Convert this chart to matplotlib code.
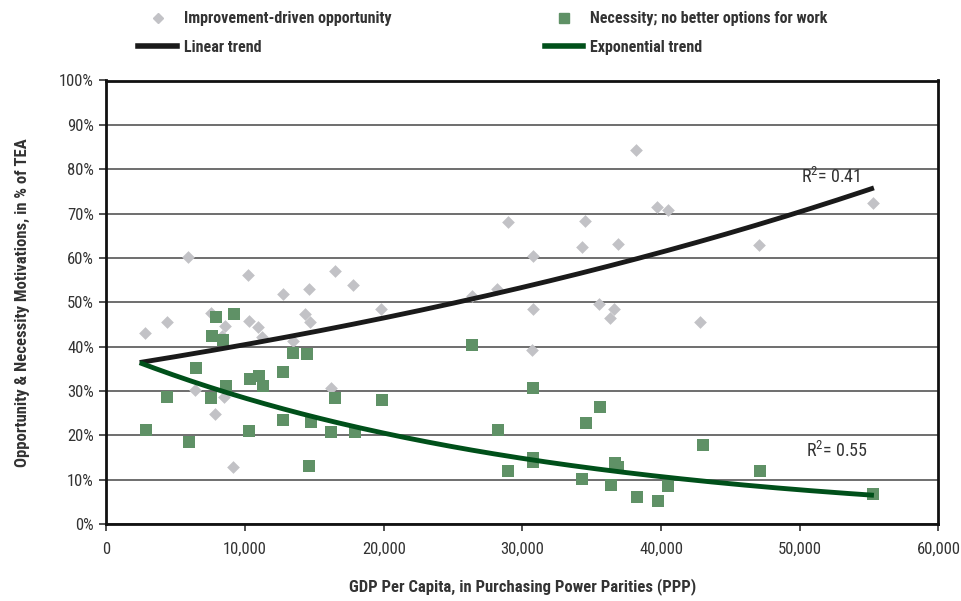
#!/usr/bin/env python3
"""
Opportunity vs necessity motivations against GDP per capita, with trend curves.
"""

import numpy as np
import matplotlib
matplotlib.use("Agg")
import matplotlib.pyplot as plt
from matplotlib import font_manager
from matplotlib.lines import Line2D
from matplotlib.ticker import FuncFormatter, MultipleLocator

# GDP per capita (PPP) and share of TEA (%)
opp_gdp = [2800, 4350, 5900, 10200, 12700, 7550, 8570, 10300, 10900, 11250,
           13450, 6400, 8500, 7850, 9130, 8340, 14600, 16500, 17800, 14350,
           14700, 19800, 16200, 26350, 28200, 28950, 30750, 30750, 30700, 38200,
           39700, 40500, 34550, 34300, 36900, 35550, 36600, 36300, 42800, 47050,
           55250]
opp_pct = [43.0, 45.5, 60.2, 56.1, 51.9, 47.5, 44.7, 45.7, 44.4, 42.1,
           41.3, 30.3, 28.7, 24.8, 12.9, 42.4, 53.1, 57.0, 54.0, 47.4,
           45.5, 48.5, 30.7, 51.3, 52.9, 68.2, 60.4, 48.5, 39.3, 84.4,
           71.5, 70.7, 68.3, 62.5, 63.1, 49.6, 48.5, 46.4, 45.5, 62.8,
           72.4]

nec_gdp = [7900, 9200, 7650, 8400, 13450, 6450, 4370, 7550, 8600, 10380,
           10980, 11270, 12750, 12750, 10250, 2880, 5940, 14450, 16500, 19880,
           14730, 16220, 17900, 14630, 26400, 30750, 28250, 28950, 30800, 30750,
           34600, 35600, 34300, 36400, 36680, 36900, 38250, 39750, 40500, 43000,
           47150, 55250]
nec_pct = [46.6, 47.3, 42.5, 41.4, 38.5, 35.2, 28.7, 28.5, 31.1, 32.7,
           33.3, 31.1, 34.2, 23.4, 20.9, 21.2, 18.5, 38.3, 28.3, 28.0,
           23.1, 20.8, 20.7, 13.1, 40.4, 30.7, 21.2, 12.0, 14.8, 14.0,
           22.8, 26.4, 10.1, 8.8, 13.7, 12.8, 6.1, 5.1, 8.6, 17.8,
           12.0, 6.8]

# trend curves y = a * exp(b * x), drawn over the range below
trend_range = [2400, 55350]
opp_trend = (35.22, 1.3845e-5)
nec_trend = (39.33, -3.259e-5)

x_ticks = [0, 10000, 20000, 30000, 40000, 50000, 60000]
opp_r2 = "R$^{2}$= 0.41"
nec_r2 = "R$^{2}$= 0.55"

GREY = "#c2c2c6"
GREEN_PT = "#5f9166"
BLACK = "#1a1a1a"
GREEN_LN = "#00501a"
TEXT = "#333333"


def pick_font(names):
    have = {f.name for f in font_manager.fontManager.ttflist}
    for n in names:
        if n in have:
            return n
    return "DejaVu Sans"


NARROW = pick_font(["Liberation Sans Narrow", "Roboto Condensed", "Open Sans Condensed"])
plt.rcParams["font.family"] = [NARROW, "DejaVu Sans"]
plt.rcParams["mathtext.fontset"] = "custom"
plt.rcParams["mathtext.rm"] = NARROW

fig = plt.figure(figsize=(9.61, 6.01), dpi=100, facecolor="white")
ax = fig.add_axes([106.4 / 961, 1 - 524 / 601, 832 / 961, 443.5 / 601])

ax.set_xlim(0, 60000)
ax.set_ylim(0, 100)
ax.yaxis.set_major_locator(MultipleLocator(10))
ax.set_xticks(x_ticks)
ax.yaxis.set_major_formatter(FuncFormatter(lambda v, p: f"{v:.0f}%"))
ax.xaxis.set_major_formatter(FuncFormatter(lambda v, p: f"{v:,.0f}"))
ax.grid(True, axis="y", color="#555555", linewidth=1.2, zorder=0)
ax.set_axisbelow(True)

for spine in ax.spines.values():
    spine.set_linewidth(2.0)
    spine.set_edgecolor("#111111")

ax.tick_params(axis="both", direction="out", length=5, width=1.2, color="#333333",
               labelsize=12, labelcolor=TEXT)
ax.tick_params(axis="y", pad=4)
ax.tick_params(axis="x", pad=8)

# points
ax.scatter(opp_gdp, opp_pct, marker="D", s=42, color=GREY, linewidths=0, zorder=3)
ax.scatter(nec_gdp, nec_pct, marker="s", s=78, color=GREEN_PT, linewidths=0, zorder=4)

# trend curves
xs = np.linspace(trend_range[0], trend_range[1], 200)
ax.plot(xs, opp_trend[0] * np.exp(opp_trend[1] * xs), color=BLACK, linewidth=3.5,
        solid_capstyle="butt", zorder=5)
ax.plot(xs, nec_trend[0] * np.exp(nec_trend[1] * xs), color=GREEN_LN, linewidth=3.5,
        solid_capstyle="butt", zorder=5)

ax.text(50100, 78.3, opp_r2, fontsize=13, color=TEXT, va="center", ha="left", zorder=6)
ax.text(50450, 16.5, nec_r2, fontsize=13, color=TEXT, va="center", ha="left", zorder=6)

ax.set_xlabel("GDP Per Capita, in Purchasing Power Parities (PPP)", fontsize=12,
              fontweight="bold", color=TEXT, labelpad=15)
ax.set_ylabel("Opportunity & Necessity Motivations, in % of TEA", fontsize=12,
              fontweight="bold", color=TEXT, labelpad=21)

# legend across the top
handles = [
    Line2D([], [], linestyle="none", marker="D", markersize=5, color=GREY),
    Line2D([], [], color=BLACK, linewidth=4),
    Line2D([], [], linestyle="none", marker="s", markersize=7, color=GREEN_PT),
    Line2D([], [], color=GREEN_LN, linewidth=4),
]
labels = ["Improvement-driven opportunity", "Linear trend",
          "Necessity; no better options for work", "Exponential trend"]
leg = fig.legend(handles, labels, ncol=2, loc="upper left",
                 bbox_to_anchor=(124 / 961, 1 + 3 / 601), frameon=False,
                 prop={"family": [NARROW, "DejaVu Sans"], "weight": "bold", "size": 11.5},
                 handlelength=2.4, handletextpad=0.45, columnspacing=9.6,
                 labelspacing=0.85)
for t in leg.get_texts():
    t.set_color(TEXT)

fig.savefig("out.png", dpi=100, facecolor="white")
